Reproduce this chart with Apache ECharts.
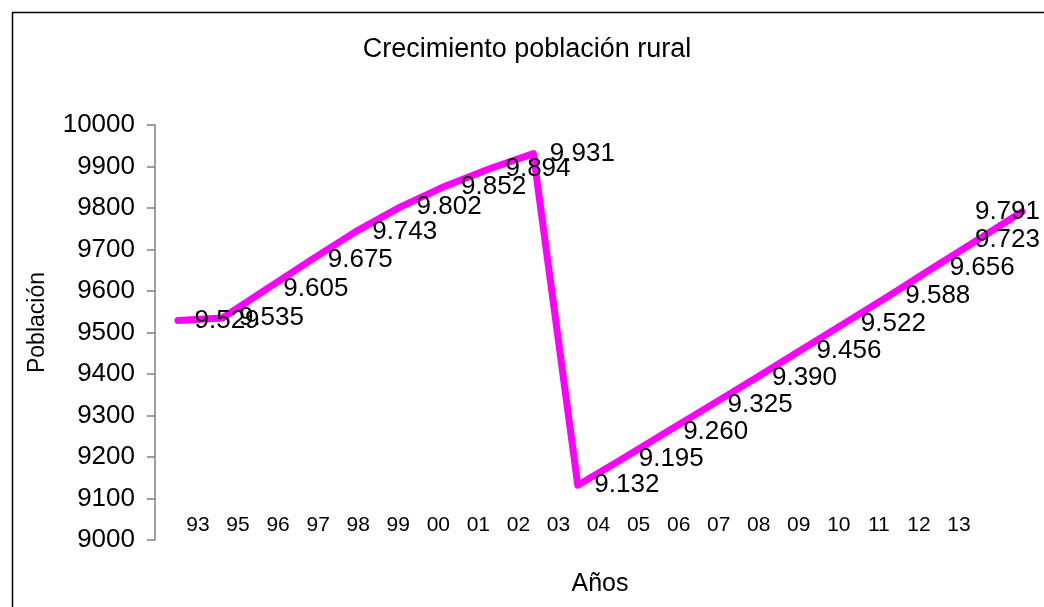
<!DOCTYPE html>
<html>
<head>
<meta charset="utf-8">
<script src="https://cdn.jsdelivr.net/npm/echarts@6/dist/echarts.min.js"></script>
<style>
html,body{margin:0;padding:0;background:#fff;}
#chart{width:1044px;height:607px;}
</style>
</head>
<body>
<div id="chart"></div>
<script>
var years = ['93','95','96','97','98','99','00','01','02','03','04','05','06','07','08','09','10','11','12','13'];
var population = [9529,9535,9605,9675,9743,9802,9852,9894,9931,9132,9195,9260,9325,9390,9456,9522,9588,9656,9723,9791];
var yTicks = {min: 9000, max: 10000, interval: 100};
var titleText = 'Crecimiento población rural';
var yName = 'Población';
var xName = 'Años';

var FONT = '"Liberation Sans", Arial, sans-serif';
function fmt(v){
  var s = String(v);
  return s.replace(/\B(?=(\d{3})+(?!\d))/g, '.');
}

var chart = echarts.init(document.getElementById('chart'), null, {renderer:'canvas'});
chart.setOption({
  backgroundColor: '#fff',
  animation: false,
  title: {
    text: titleText,
    left: 522, top: 31,
    textAlign: 'center',
    textStyle: {fontFamily: FONT, fontSize: 27, fontWeight: 'normal', color: '#000'}
  },
  graphic: [{
    type: 'rect', shape: {x: 12.5, y: 12.5, width: 1040, height: 600},
    style: {fill: 'none', stroke: '#000', lineWidth: 1.5}, silent: true
  }],
  grid: [
    {left: 178, right: 22, top: 125, bottom: 67},
    {left: 198, right: 85, top: 125, bottom: 97}
  ],
  xAxis: [
    {
      gridIndex: 0, type: 'category', data: years, boundaryGap: false,
      axisLine: {show: false}, axisTick: {show: false}, axisLabel: {show: false},
      splitLine: {show: false},
      name: xName, nameLocation: 'middle', nameGap: 32,
      nameTextStyle: {fontFamily: FONT, fontSize: 25, color: '#000'}
    },
    {
      gridIndex: 1, type: 'category', data: years, boundaryGap: false,
      axisLine: {show: false}, axisTick: {show: false}, splitLine: {show: false},
      axisLabel: {show: true, interval: 0, margin: 5, fontFamily: FONT, fontSize: 21, color: '#000'}
    }
  ],
  yAxis: [
    {
      gridIndex: 0, type: 'value', min: yTicks.min, max: yTicks.max, interval: yTicks.interval,
      offset: 23,
      axisLine: {show: true, lineStyle: {color: '#808080', width: 1.5}},
      axisTick: {show: true, inside: false, length: 8, lineStyle: {color: '#808080', width: 1.5}},
      splitLine: {show: false},
      axisLabel: {margin: 20, fontFamily: FONT, fontSize: 26, color: '#000',
        formatter: function(v){ return String(v); }},
      name: yName, nameLocation: 'middle', nameGap: 106, nameRotate: 90,
      nameTextStyle: {fontFamily: FONT, fontSize: 23, color: '#000', padding: [0, 0, 0, 20]}
    },
    {
      gridIndex: 1, type: 'value', show: false, min: yTicks.min, max: yTicks.max
    }
  ],
  series: [{
    type: 'line',
    xAxisIndex: 0, yAxisIndex: 0,
    data: population,
    symbol: 'circle', symbolSize: 1, showSymbol: true,
    itemStyle: {color: '#FF00FF'},
    lineStyle: {color: '#FF00FF', width: 7, join: 'round', cap: 'round'},
    label: {
      show: true, position: 'right', distance: 16,
      fontFamily: FONT, fontSize: 26, color: '#000',
      formatter: function(p){ return fmt(p.value); }
    },
    labelLayout: function(params){
      var r = params.labelRect;
      var over = r.x + r.width - 1040;
      return over > 0 ? {dx: -over} : {};
    },
    silent: true
  }]
});
</script>
</body>
</html>
